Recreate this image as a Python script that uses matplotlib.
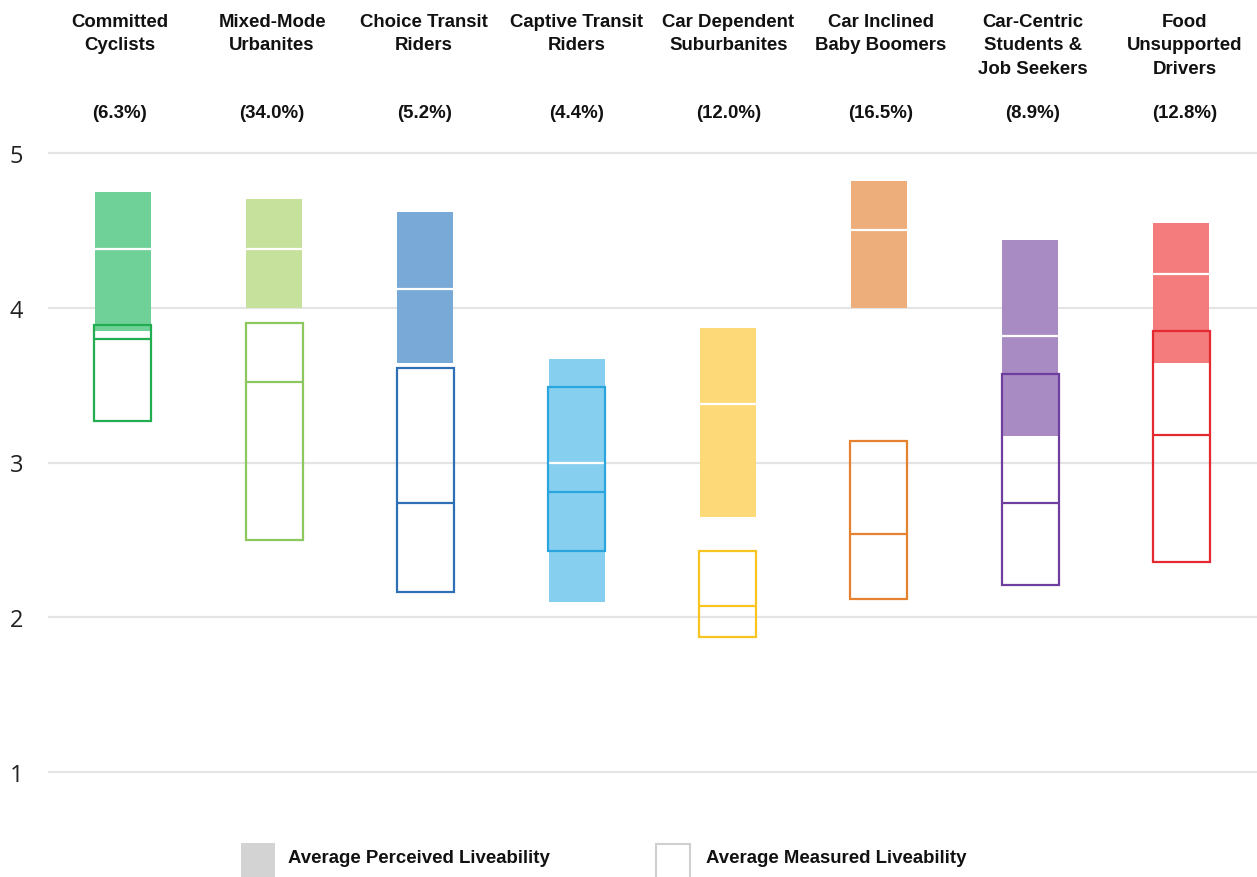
import matplotlib
matplotlib.use("Agg")
import matplotlib.pyplot as plt
import matplotlib.transforms as mtransforms
from matplotlib.patches import Rectangle

# ---------------- data ----------------
segments = ["Committed\nCyclists", "Mixed-Mode\nUrbanites", "Choice Transit\nRiders",
            "Captive Transit\nRiders", "Car Dependent\nSuburbanites", "Car Inclined\nBaby Boomers",
            "Car-Centric\nStudents &\nJob Seekers", "Food\nUnsupported\nDrivers"]
shares = ["(6.3%)", "(34.0%)", "(5.2%)", "(4.4%)", "(12.0%)", "(16.5%)", "(8.9%)", "(12.8%)"]

perceived_low = [3.85, 4.00, 3.64, 2.10, 2.65, 4.00, 3.17, 3.64]
perceived_mean = [4.38, 4.38, 4.12, 3.00, 3.38, 4.50, 3.82, 4.22]
perceived_high = [4.75, 4.70, 4.62, 3.67, 3.87, 4.82, 4.44, 4.55]

measured_low = [3.27, 2.50, 2.16, 2.43, 1.87, 2.12, 2.21, 2.36]
measured_mean = [3.80, 3.52, 2.74, 2.81, 2.07, 2.54, 2.74, 3.18]
measured_high = [3.89, 3.90, 3.61, 3.49, 2.43, 3.14, 3.57, 3.85]

fill_colors = ["#70d198", "#c5e19c", "#79a9d7", "#87cfee", "#fdd978", "#eeae7c", "#a98bc3", "#f47c7d"]
line_colors = ["#22ad50", "#8dc85e", "#2e6fb6", "#2aa5de", "#f8c420", "#e5822f", "#6f3fa0", "#e42a30"]

yticks = [1, 2, 3, 4, 5]
legend_labels = ["Average Perceived Liveability", "Average Measured Liveability"]

# ---------------- figure ----------------
W, H = 1257, 878
fig = plt.figure(figsize=(W / 100, H / 100), dpi=100)

px_per_unit = 154.75
y1_px = 773.0
ylo, yhi = 0.8, 5.1
bottom_px = y1_px + (1 - ylo) * px_per_unit
top_px = y1_px - (yhi - 1) * px_per_unit
ax_left = 48 / W
ax = fig.add_axes([ax_left, (H - bottom_px) / H, 1 - ax_left, (bottom_px - top_px) / H])
ax.set_ylim(ylo, yhi)
ax.set_xlim(-0.496, 7.5)

for s in ax.spines.values():
    s.set_visible(False)
ax.set_xticks([])
ax.set_yticks(yticks)
ax.set_yticklabels([str(t) for t in yticks], fontsize=17, family=["Open Sans", "DejaVu Sans"],
                   color="#222222")
ax.tick_params(axis="y", length=0, pad=18)
ax.yaxis.grid(True, color="#e4e4e4", lw=1.6)
ax.set_axisbelow(True)

x = list(range(len(segments)))
w_fill = 0.370
w_line = 0.377

# perceived (filled)
ax.bar(x, [h - l for h, l in zip(perceived_high, perceived_low)], bottom=perceived_low,
       width=w_fill, color=fill_colors, lw=0, zorder=2)
ax.hlines(perceived_mean, [i - w_fill / 2 for i in x], [i + w_fill / 2 for i in x],
          colors="white", lw=1.6, zorder=3)
# measured (outline)
ax.bar(x, [h - l for h, l in zip(measured_high, measured_low)], bottom=measured_low,
       width=w_line, fill=False, edgecolor=line_colors, lw=1.6, zorder=4)
ax.hlines(measured_mean, [i - w_line / 2 for i in x], [i + w_line / 2 for i in x],
          colors=line_colors, lw=1.6, zorder=4)

# header labels
fs = 13.4
font = ["Liberation Sans", "DejaVu Sans"]
tr = mtransforms.blended_transform_factory(ax.transData, fig.transFigure)
for i, (seg, sh) in enumerate(zip(segments, shares)):
    lx = -0.02 + i * 1.006
    ax.text(lx, 1 - 14 / H, seg, transform=tr,
            ha="center", va="top", fontsize=fs, fontweight="bold", family=font,
            linespacing=1.5, color="#111111")
    ax.text(lx, 1 - 113 / H, sh, transform=tr,
            ha="center", va="center", fontsize=fs, fontweight="bold", family=font, color="#111111")

# legend
sq1 = Rectangle((241 / W, -0.02), 34 / W, (878 - 844) / H + 0.02, transform=fig.transFigure,
                facecolor="#d3d3d3", edgecolor="none")
sq2 = Rectangle((656 / W, -0.02), 34 / W, (878 - 845) / H + 0.02, transform=fig.transFigure,
                facecolor="white", edgecolor="#d0d0d0", lw=1.5)
fig.add_artist(sq1)
fig.add_artist(sq2)
fig.text(288 / W, 1 - 859 / H, legend_labels[0], ha="left", va="center", fontsize=fs,
         fontweight="bold", family=font, color="#111111")
fig.text(706 / W, 1 - 859 / H, legend_labels[1], ha="left", va="center", fontsize=fs,
         fontweight="bold", family=font, color="#111111")

fig.savefig("out.png", dpi=100, facecolor="white")
